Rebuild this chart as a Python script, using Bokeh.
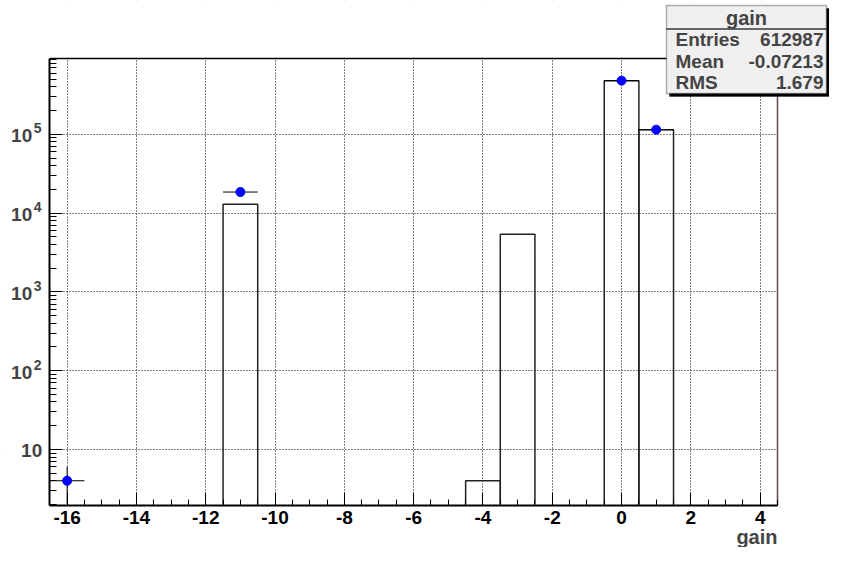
import numpy as np
from bokeh.plotting import figure
from bokeh.models import (Range1d, FixedTicker, SingleIntervalTicker, Label,
                          BoxAnnotation)
from bokeh.embed import file_html
from bokeh.resources import INLINE

# ---- data ----
hist_centers = [-11, -4, -3, 0, 1]
hist_counts = [12950, 4, 5400, 480114, 114515]
bin_width = 1.0

pts_x = [-16, -11, 0, 1]
pts_y = [4, 18500, 480114, 114515]

x_ticks = [-16, -14, -12, -10, -8, -6, -4, -2, 0, 2, 4]
x_labels = {t: str(t) for t in x_ticks}
y_exponents = [1, 2, 3, 4, 5]

stats_title = "gain"
stats_names = ["Entries", "Mean", "RMS"]
stats_values = ["612987", "-0.07213", "1.679"]
x_title = "gain"

# ---- layout constants ----
FONT = "Liberation Sans"
W, H = 829, 547
VL, VR, VT, VB = 49.3, 777.0, 58.0, 505.0     # visible frame (canvas px)
X0, X1 = -16.5, 4.5                           # visible x range
Y0, Y1 = 1.94, 9.17e5                         # visible y range
FIX = 6.0                                     # label baseline correction (px, up)
xs = (VR - VL) / (X1 - X0)
ys = (VB - VT) / (np.log10(Y1) - np.log10(Y0))
xr = Range1d(X0 - VL / xs, X1 + (W - VR) / xs)
yr = Range1d(10 ** (np.log10(Y0) - (H - VB) / ys), 10 ** (np.log10(Y1) + VT / ys))

p = figure(width=W, height=H, y_axis_type="log", x_range=xr, y_range=yr,
           output_backend="svg", toolbar_location=None,
           min_border=0, min_border_left=0, min_border_right=0,
           min_border_top=0, min_border_bottom=0)
p.background_fill_color = "white"
p.border_fill_color = "white"
p.outline_line_color = None

y_major = [10.0 ** k for k in y_exponents]
xt = SingleIntervalTicker(interval=2, num_minor_ticks=4)
minor = [k * 10.0 ** d for d in range(0, 6) for k in range(2, 10)]
yt = FixedTicker(ticks=y_major, minor_ticks=minor)
p.xaxis.ticker = xt
p.xgrid.ticker = xt
p.yaxis.ticker = yt
p.ygrid.ticker = yt
p.xaxis.major_label_overrides = x_labels
p.yaxis.major_label_overrides = {int(t): "" for t in y_major}
p.xaxis.fixed_location = Y0
p.yaxis.fixed_location = X0
p.xaxis.bounds = (X0, X1)
p.yaxis.bounds = (Y0, Y1)

for ax in (p.xaxis[0], p.yaxis[0]):
    ax.axis_line_width = 2
    ax.axis_line_color = "black"
    ax.major_tick_in = 13
    ax.major_tick_out = 0
    ax.minor_tick_in = 6
    ax.minor_tick_out = 0
    ax.major_tick_line_color = "black"
    ax.minor_tick_line_color = "black"
    ax.major_label_text_font = FONT
    ax.major_label_text_font_style = "bold"
    ax.major_label_text_font_size = "19px"
    ax.major_label_text_color = "black"
p.xaxis.major_label_standoff = 5
p.yaxis.major_label_standoff = 7
p.yaxis.minor_tick_in = 7

for g in (p.xgrid[0], p.ygrid[0]):
    g.grid_line_color = "black"
    g.grid_line_dash = "1 2"
    g.grid_line_width = 1

# histogram outline
left = [c - bin_width / 2 for c in hist_centers]
right = [c + bin_width / 2 for c in hist_centers]
p.quad(left=left, right=right, top=hist_counts, bottom=[yr.start] * len(hist_counts),
       fill_alpha=0, line_color="#222222", line_width=1.5)

# white masks outside the visible frame (slightly beyond the ranges)
ml, mr = xr.start - 2, xr.end + 2
mb, mt = yr.start / 10, yr.end * 10
p.quad(left=[ml, X1, ml, ml], right=[X0, mr, mr, mr],
       bottom=[mb, mb, Y1, mb], top=[mt, mt, mt, Y0],
       fill_color="white", line_color="white", line_width=2)

# frame top and right edges
p.segment(x0=[X0], x1=[X1], y0=[Y1], y1=[Y1], line_color="black", line_width=1.5)
p.segment(x0=[X1], x1=[X1], y0=[Y0], y1=[Y1], line_color="#6b4848", line_width=1.5)

# markers with error bars
err = np.sqrt(np.array(pts_y, dtype=float))
px = np.array(pts_x, dtype=float)
py = np.array(pts_y, dtype=float)
p.segment(x0=px - bin_width / 2, x1=px + bin_width / 2, y0=py, y1=py,
          line_color="black", line_width=1)
p.segment(x0=px, x1=px, y0=np.maximum(py - err, Y0), y1=py + err,
          line_color="black", line_width=1)
p.scatter(px, py, marker="circle", size=9, fill_color="#0000ff",
          line_color="#0000ff")

# y tick labels: 10 with superscript exponent
for k, t in zip(y_exponents, y_major):
    if k == 1:
        p.add_layout(Label(x=VL - 7.6, y=t, x_units="screen", y_units="data",
                           text="10", text_align="right", text_baseline="alphabetic",
                           y_offset=-6.7 + FIX, text_font=FONT, text_font_style="bold",
                           text_font_size="19px"))
    else:
        p.add_layout(Label(x=VL - 17.6, y=t, x_units="screen", y_units="data",
                           text="10", text_align="right", text_baseline="alphabetic",
                           y_offset=-7.5 + FIX, text_font=FONT, text_font_style="bold",
                           text_font_size="19px"))
        p.add_layout(Label(x=VL - 16.0, y=t, x_units="screen", y_units="data",
                           text=str(k), text_align="left", text_baseline="alphabetic",
                           y_offset=0 + FIX, text_font=FONT, text_font_style="bold",
                           text_font_size="14px"))

# helpers: canvas px -> screen units (frame == canvas, y up)
def sx(cx):
    return cx

def sy(cy):
    return H - cy

def box(l, r, t, b, **kw):
    return BoxAnnotation(left=sx(l), right=sx(r), top=sy(t), bottom=sy(b),
                         left_units="screen", right_units="screen",
                         top_units="screen", bottom_units="screen", **kw)

def text(cx, cy, s, align, size):
    return Label(x=sx(cx), y=sy(cy) + FIX, x_units="screen", y_units="screen",
                 text=s, text_align=align, text_baseline="alphabetic",
                 text_font=FONT, text_font_style="bold", text_font_size=size)

# stats box
BL, BR, BT, BB = 666, 826, 5, 93
p.add_layout(box(BL + 3, BR + 3, BT + 3, BB + 3, fill_color="black", fill_alpha=1,
                 line_color="black", line_width=1))
p.add_layout(box(BL, BR, BT, BB, fill_color="#f0f0f0", fill_alpha=1,
                 line_color="black", line_width=1.5))
p.add_layout(box(BL, BR, 28, 29, fill_color="black", fill_alpha=1,
                 line_color="black", line_width=0.5))
p.add_layout(text((BL + BR) / 2, 23, stats_title, "center", "20px"))
row_base = [45, 66.7, 88.3]
for name, val, yb in zip(stats_names, stats_values, row_base):
    p.add_layout(text(BL + 9, yb, name, "left", "19px"))
    p.add_layout(text(BR - 3, yb, val, "right", "19px"))

# x axis title
p.add_layout(text(VR, 542, x_title, "right", "20px"))

open("out.html", "w").write(file_html(p, INLINE))
